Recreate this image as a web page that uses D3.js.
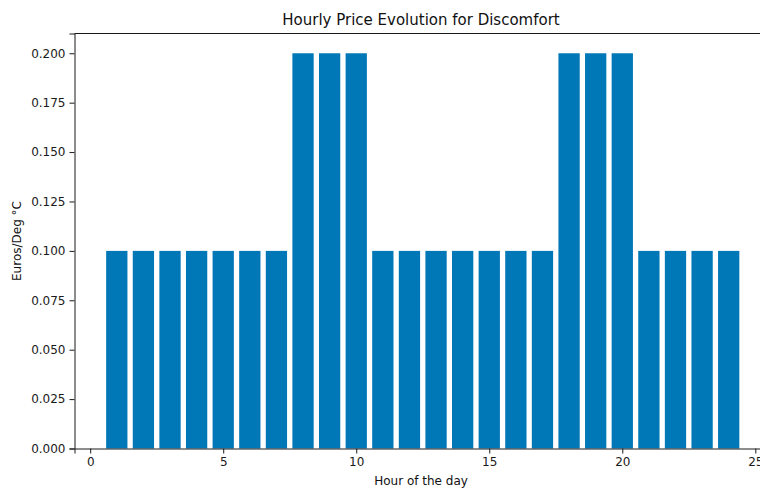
<!DOCTYPE html>
<html>
<head>
<meta charset="utf-8">
<script src="https://cdn.jsdelivr.net/npm/d3@7"></script>
<style>
  html, body { margin: 0; padding: 0; background: #fff; overflow: hidden; }
  svg { display: block; font-family: "DejaVu Sans", sans-serif; }
</style>
</head>
<body>
<svg id="chart" width="760" height="488"></svg>
<script>
// Hourly discomfort price (Euros per degree C), hours 1..24
const hours = [1,2,3,4,5,6,7,8,9,10,11,12,13,14,15,16,17,18,19,20,21,22,23,24];
const prices = [0.1,0.1,0.1,0.1,0.1,0.1,0.1,0.2,0.2,0.2,0.1,0.1,0.1,0.1,0.1,0.1,0.1,0.2,0.2,0.2,0.1,0.1,0.1,0.1];
const xTicks = [0,5,10,15,20,25];
const yTicks = [0,0.025,0.05,0.075,0.1,0.125,0.15,0.175,0.2];

(function draw() {
  const svg = d3.select("#chart");
  const mLeft = 74.5, mTop = 33.5, mBottom = 448.5, mRight = 771;
  const barWidth = 0.8;

  const x = d3.scaleLinear().domain([-0.59, 25.59]).range([mLeft, mRight]);
  const y = d3.scaleLinear().domain([0, 0.21]).range([mBottom, mTop]);

  // bars
  svg.append("g").selectAll("rect").data(hours).join("rect")
    .attr("x", (h) => x(h - barWidth / 2))
    .attr("width", (h) => x(h + barWidth / 2) - x(h - barWidth / 2))
    .attr("y", (h, i) => y(prices[i]))
    .attr("height", (h, i) => y(0) - y(prices[i]))
    .attr("fill", "#0077b7");

  // axes
  const xAxis = svg.append("g").attr("transform", `translate(0,${mBottom})`)
    .call(d3.axisBottom(x).tickValues(xTicks).tickFormat(d3.format("d")).tickSizeOuter(0).tickSize(5).tickPadding(4));
  const yAxis = svg.append("g").attr("transform", `translate(${mLeft},0)`)
    .call(d3.axisLeft(y).tickValues(yTicks).tickFormat(d3.format(".3f")).tickSizeOuter(0).tickSize(5).tickPadding(4));
  [xAxis, yAxis].forEach(a => {
    a.selectAll("text").attr("font-size", 12).attr("fill", "#1a1a1a").attr("font-family", "DejaVu Sans");
    a.selectAll("line").attr("stroke", "#1a1a1a");
    a.select(".domain").attr("stroke", "#1a1a1a");
  });

  // frame (top and right spines)
  svg.append("line").attr("x1", mLeft).attr("x2", mRight).attr("y1", mTop).attr("y2", mTop).attr("stroke", "#1a1a1a");
  svg.append("line").attr("x1", mRight).attr("x2", mRight).attr("y1", mTop).attr("y2", mBottom).attr("stroke", "#1a1a1a");

  // title and labels
  svg.append("text").attr("x", 421).attr("y", 25).attr("text-anchor", "middle")
    .attr("font-size", 15).attr("fill", "#111").text("Hourly Price Evolution for Discomfort");
  svg.append("text").attr("x", 421).attr("y", 485).attr("text-anchor", "middle")
    .attr("font-size", 12).attr("fill", "#111").text("Hour of the day");
  svg.append("text").attr("transform", `translate(21,${(mTop + mBottom) / 2}) rotate(-90)`)
    .attr("text-anchor", "middle").attr("font-size", 12).attr("fill", "#111").text("Euros/Deg °C");
})();
</script>
</body>
</html>
